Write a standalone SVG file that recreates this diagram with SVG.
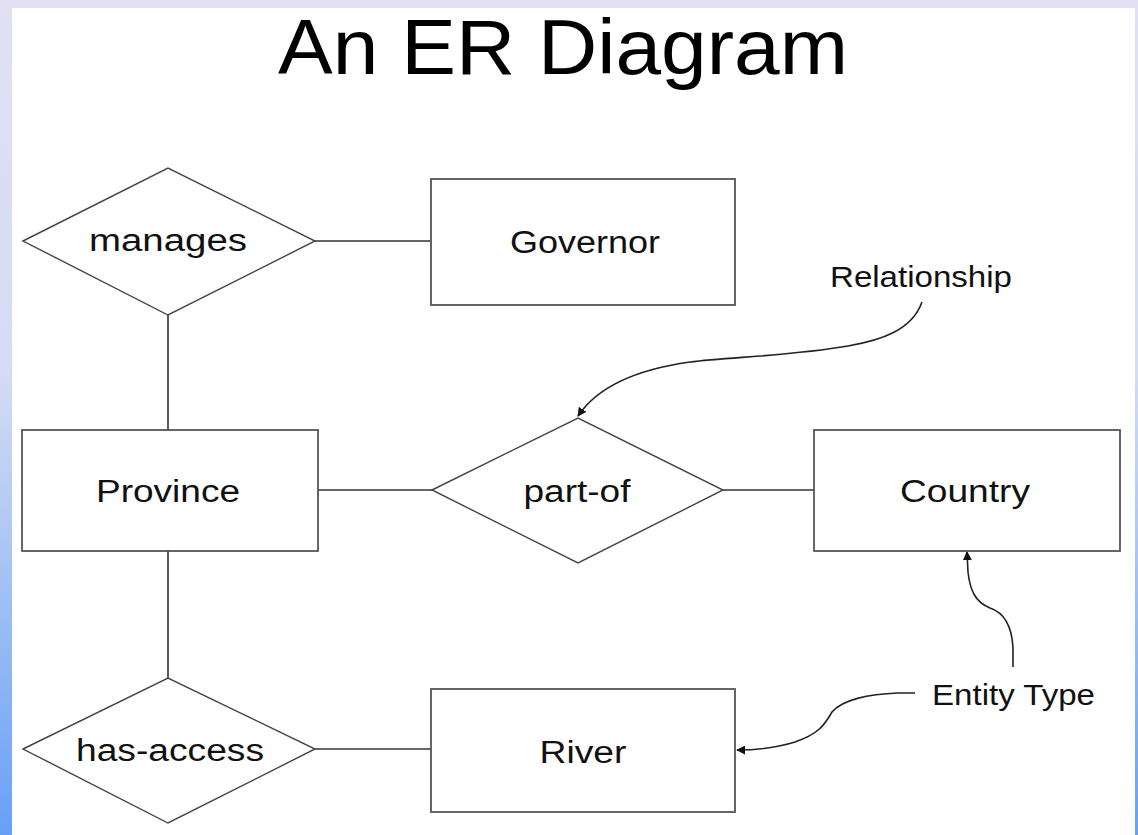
<svg xmlns="http://www.w3.org/2000/svg" width="1138" height="835" viewBox="0 0 1138 835">
<defs>
<linearGradient id="side" x1="0" y1="0" x2="0" y2="1">
<stop offset="0" stop-color="#e2e0f2"/>
<stop offset="0.45" stop-color="#d4dcf4"/>
<stop offset="1" stop-color="#68a0f6"/>
</linearGradient>
<marker id="ah" viewBox="0 0 10 10" refX="9" refY="5" markerWidth="9" markerHeight="9" markerUnits="userSpaceOnUse" orient="auto">
<path d="M0,0 L10,5 L0,10 z" fill="#111"/>
</marker>
<style>
.ent{fill:#fff;stroke:#555;stroke-width:1.8}
.rel{fill:#fff;stroke:#444;stroke-width:1.4}
.lbl{font-family:"Liberation Sans",Arial,sans-serif;font-size:31px;fill:#111;text-anchor:middle}
.note{font-family:"Liberation Sans",Arial,sans-serif;font-size:30px;fill:#111}
.conn{stroke:#333;stroke-width:1.6;fill:none}
.ann{stroke:#222;stroke-width:1.6;fill:none;marker-end:url(#ah)}
</style>
</defs>
<rect x="0" y="0" width="1138" height="835" fill="#e2e0f2"/>
<rect x="0" y="0" width="12" height="835" fill="url(#side)"/>
<rect x="1135" y="0" width="3" height="835" fill="url(#side)"/>
<rect x="12" y="8" width="1123" height="827" fill="#fff"/>
<text x="563" y="74" font-family="Liberation Sans, Arial, sans-serif" font-size="78" fill="#000" text-anchor="middle" textLength="570" lengthAdjust="spacingAndGlyphs">An ER Diagram</text>
<g id="connectors">
<line class="conn" x1="315" y1="241" x2="431" y2="241"/>
<line class="conn" x1="168" y1="315" x2="168" y2="430"/>
<line class="conn" x1="318" y1="490" x2="432" y2="490"/>
<line class="conn" x1="723" y1="490" x2="814" y2="490"/>
<line class="conn" x1="168" y1="551" x2="168" y2="678"/>
<line class="conn" x1="315" y1="749" x2="431" y2="749"/>
<path class="ann" d="M922,302 C912,330 882,340 848,346 C790,356 730,357 690,362 C640,369 598,386 578,416"/>
<path class="ann" d="M915,693 L898,693 C868,694 842,700 832,712 C824,726 818,734 795,742 C776,748 758,750 737,750"/>
<path class="ann" d="M1013,667 L1013,648 C1012,628 1005,613 990,608 C975,602 970,590 968,572 L967,552"/>
</g>
<g id="manages">
<polygon class="rel" points="23,241 168,168 315,241 168,315"/>
<text class="lbl" x="168" y="251" textLength="158" lengthAdjust="spacingAndGlyphs">manages</text>
</g>
<g id="governor">
<rect class="ent" x="431" y="179" width="304" height="126"/>
<text class="lbl" x="585" y="253" textLength="150" lengthAdjust="spacingAndGlyphs">Governor</text>
</g>
<g id="province">
<rect class="ent" x="22" y="430" width="296" height="121"/>
<text class="lbl" x="168" y="502" textLength="144" lengthAdjust="spacingAndGlyphs">Province</text>
</g>
<g id="part-of">
<polygon class="rel" points="432,490 578,418 723,490 578,563"/>
<text class="lbl" x="577" y="502" textLength="107" lengthAdjust="spacingAndGlyphs">part-of</text>
</g>
<g id="country">
<rect class="ent" x="814" y="430" width="306" height="121"/>
<text class="lbl" x="965" y="502" textLength="130" lengthAdjust="spacingAndGlyphs">Country</text>
</g>
<g id="has-access">
<polygon class="rel" points="23,749 168,678 315,749 168,823"/>
<text class="lbl" x="170" y="761" textLength="188" lengthAdjust="spacingAndGlyphs">has-access</text>
</g>
<g id="river">
<rect class="ent" x="431" y="689" width="304" height="123"/>
<text class="lbl" x="583" y="763" textLength="87" lengthAdjust="spacingAndGlyphs">River</text>
</g>
<g id="relationship-note">
<text class="note" x="830" y="287" textLength="182" lengthAdjust="spacingAndGlyphs">Relationship</text>
</g>
<g id="entity-type-note">
<text class="note" x="932" y="705" textLength="163" lengthAdjust="spacingAndGlyphs">Entity Type</text>
</g>
</svg>
